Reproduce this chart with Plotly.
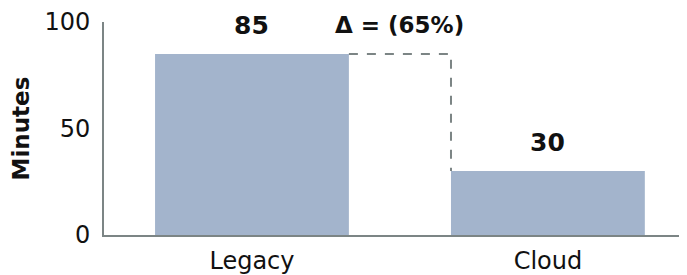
import plotly.graph_objects as go

categories = ["Legacy", "Cloud"]
minutes = [85, 30]
value_labels = ["85", "30"]
delta_label = "\u0394 = (65%)"
y_ticks = [0, 50, 100]

bar_color = "#a3b4cc"
axis_color = "#7c8585"
bar_width = 0.655
font_name = "DejaVu Sans"

fig = go.Figure()
fig.add_trace(go.Bar(x=[0, 1], y=minutes, width=bar_width, marker_color=bar_color,
                     marker_line_width=0, hoverinfo="skip"))

for i, (v, t) in enumerate(zip(minutes, value_labels)):
    fig.add_annotation(x=i, y=v, text="<b>" + t + "</b>", showarrow=False,
                       yanchor="bottom", yshift=12,
                       font=dict(family=font_name, size=25, color="#111"))

half = bar_width / 2
fig.add_shape(type="path",
              path=f"M {0 + half} {minutes[0]} L {1 - half} {minutes[0]} L {1 - half} {minutes[1]}",
              xref="x", yref="y", line=dict(color=axis_color, width=2, dash="dash"))
fig.add_annotation(x=0.5, y=minutes[0], text="<b>" + delta_label + "</b>", showarrow=False,
                   yanchor="bottom", yshift=14,
                   font=dict(family=font_name, size=23, color="#111"))

fig.update_layout(
    width=679, height=267,
    margin=dict(l=96, r=0, t=14, b=40),
    plot_bgcolor="white", paper_bgcolor="white",
    showlegend=False,
    font=dict(family=font_name, color="#111"),
)
fig.update_xaxes(range=[-0.5, 1.47], tickvals=[0, 1], ticktext=categories,
                 showline=True, linecolor=axis_color, linewidth=2, showgrid=False,
                 ticks="", tickfont=dict(size=24, family=font_name), zeroline=False,
                 ticklabelstandoff=3)
fig.update_yaxes(range=[0, 100], tickvals=y_ticks, showline=True, linecolor=axis_color,
                 linewidth=2, showgrid=False, zeroline=False, ticks="",
                 tickfont=dict(size=24, family=font_name), ticklabelstandoff=7,
                 ticklabeloverflow="allow",
                 title=dict(text="<b>Minutes</b>", font=dict(size=23, family=font_name), standoff=19))

fig.write_html("out.html")
